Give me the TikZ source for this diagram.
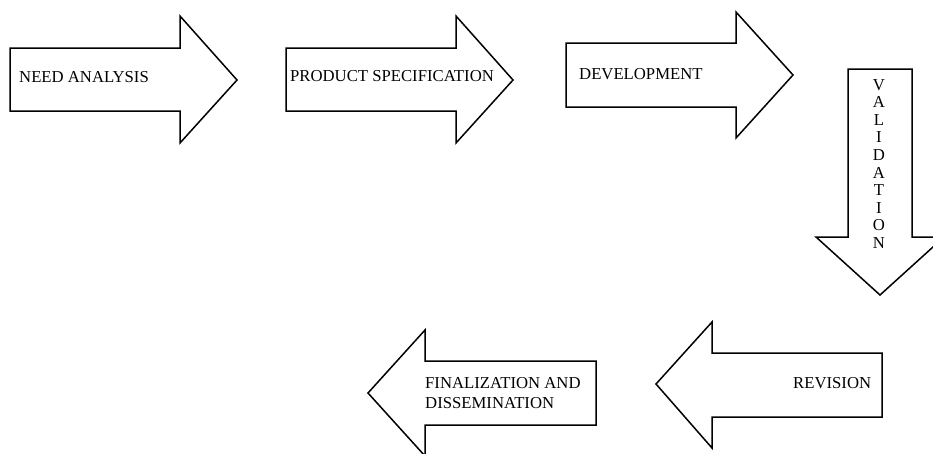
\documentclass[tikz,border=0pt]{standalone}
\usepackage{fontspec}
\setmainfont{Liberation Serif}
\begin{document}
\begin{tikzpicture}[x=1pt,y=-1pt,
  bigarrow/.style={draw=black,line width=1.5pt,line join=miter,fill=white},
  lbl/.style={inner sep=0pt,font=\fontsize{16.7}{20}\selectfont,text=black}]
\useasboundingbox (0,0) rectangle (933,453);
\clip (0,0) rectangle (933,453);
\fill[white] (0,0) rectangle (933,453);
% arrows
\draw[bigarrow] (10,48) -- (180,48) -- (180,16) -- (237,80) -- (180,143) -- (180,111) -- (10,111) -- cycle;
\draw[bigarrow] (286,48) -- (456,48) -- (456,16) -- (513,80) -- (456,143) -- (456,111) -- (286,111) -- cycle;
\draw[bigarrow] (566,43) -- (736,43) -- (736,12) -- (793,75) -- (736,138) -- (736,107) -- (566,107) -- cycle;
\draw[bigarrow] (848,69) -- (912,69) -- (912,237) -- (944,237) -- (880,295) -- (816,237) -- (848,237) -- cycle;
\draw[bigarrow] (882,353) -- (712,353) -- (712,322) -- (656,384) -- (712,448) -- (712,417) -- (882,417) -- cycle;
\draw[bigarrow] (596,361) -- (425,361) -- (425,330) -- (368,393) -- (425,456) -- (425,425) -- (596,425) -- cycle;
% labels
\node[lbl,anchor=base west] (need) at (19,82) {NEED ANALYSIS};
\node[lbl,anchor=base west] (spec) at (290,81) {PRODUCT SPECIFICATION};
\node[lbl,anchor=base west] (dev) at (579,79) {DEVELOPMENT};
\node[lbl,anchor=north,align=center,font=\fontsize{16.7}{17.6}\selectfont] (val) at (879,79)
  {V\\A\\L\\I\\D\\A\\T\\I\\O\\N};
\node[lbl,anchor=base west] (rev) at (793,388) {REVISION};
\node[lbl,anchor=north west,align=left] (fin) at (425,377) {FINALIZATION AND\\DISSEMINATION};
\end{tikzpicture}
\end{document}
